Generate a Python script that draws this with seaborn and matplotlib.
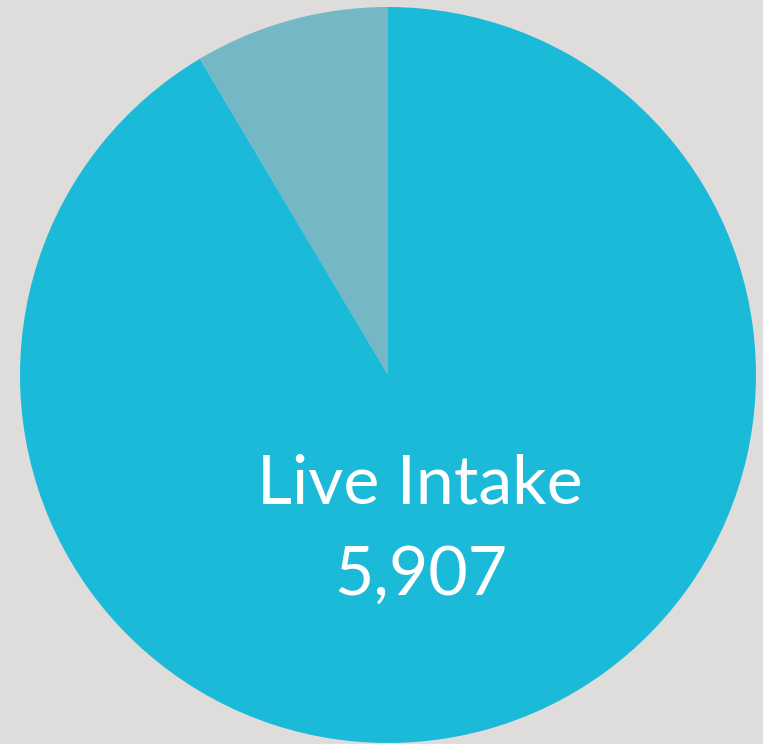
import matplotlib.pyplot as plt
import seaborn as sns

# data
categories = ['Other', 'Live Intake']
values = [552, 5907]
slice_colors = ['#74B8C6', '#1CBAD9']

sns.set_theme(style='white')
plt.rcParams['font.family'] = ['Lato', 'DejaVu Sans']

fig = plt.figure(figsize=(7.63, 7.44), dpi=100)
fig.patch.set_facecolor('#DEDDDC')

# pie occupies a square box: centre ~ (388, 375) px, radius ~ 368 px
ax = fig.add_axes([20 / 763, 1 / 744, 736 / 763, 736 / 744])
ax.set_facecolor('none')

ax.pie(values, colors=slice_colors, startangle=90, counterclock=True,
       radius=1, wedgeprops=dict(linewidth=0))
ax.set_xlim(-1, 1)
ax.set_ylim(-1, 1)
ax.set_aspect('equal')
ax.axis('off')

ax.text(0.087, -0.349, categories[1], ha='center', va='baseline',
        color='white', fontsize=49)
ax.text(0.088, -0.597, f'{values[1]:,}', ha='center', va='baseline',
        color='white', fontsize=49)

fig.savefig('out.png', dpi=100, facecolor=fig.get_facecolor())
